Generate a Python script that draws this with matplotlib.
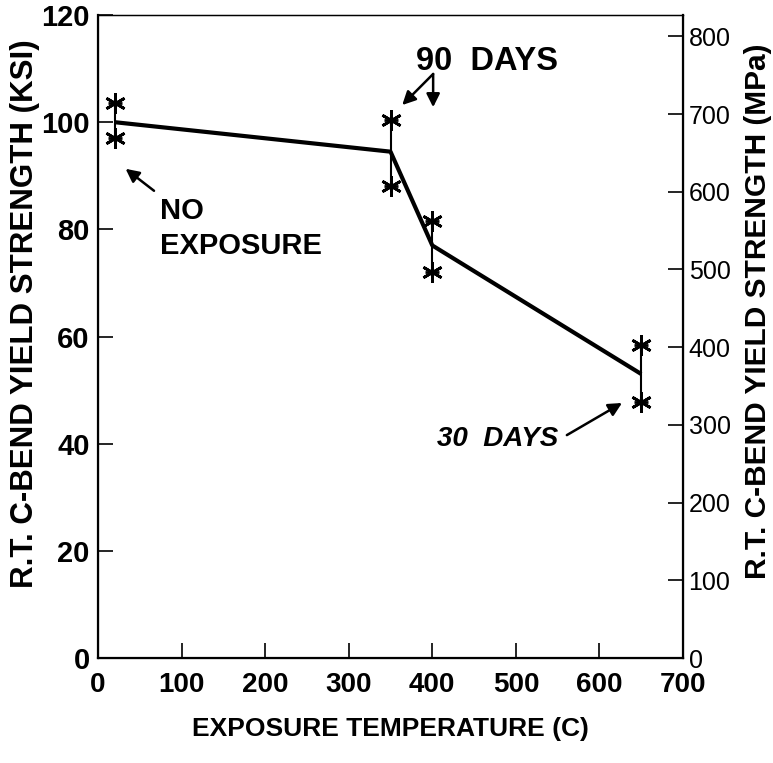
import matplotlib
matplotlib.use("Agg")
import matplotlib.pyplot as plt

# exposure temperature (C) and R.T. C-bend yield strength (ksi)
temp = [20, 350, 400, 650]
ys_mean = [100.0, 94.5, 77.0, 53.0]
ys_high = [103.5, 100.5, 81.5, 58.5]
ys_low = [97.0, 88.0, 72.0, 47.8]

x_ticks = [0, 100, 200, 300, 400, 500, 600, 700]
ksi_ticks = [0, 20, 40, 60, 80, 100, 120]
mpa_ticks = [0, 100, 200, 300, 400, 500, 600, 700, 800]
KSI_TO_MPA = 6.895

plt.rcParams['font.family'] = ['Liberation Sans', 'DejaVu Sans']

fig = plt.figure(figsize=(7.73, 7.63), dpi=100)
ax = fig.add_axes([0.1268, 0.1376, 0.7568, 0.8427])

ax.plot(temp, ys_mean, color='black', lw=3, solid_capstyle='butt', zorder=3)
for t, lo, hi in zip(temp, ys_low, ys_high):
    ax.plot([t, t], [lo, hi], color='black', lw=1.5, zorder=2)
for ys in (ys_high, ys_low):
    ax.plot(temp, ys, ls='none', marker=(6, 2, 0), ms=15, mew=2, color='black')
    ax.plot(temp, ys, ls='none', marker='_', ms=10, mew=2, color='black')

ax.set_xlim(0, 700)
ax.set_ylim(0, 120)
ax.set_xticks(x_ticks)
ax.set_yticks(ksi_ticks)
ax.set_xticklabels([str(v) for v in x_ticks], fontweight='bold', fontsize=20)
ax.set_yticklabels([str(v) for v in ksi_ticks], fontweight='bold', fontsize=21)
ax.tick_params(axis='both', direction='in', length=11, width=1.2, pad=6)
ax.tick_params(axis='x', pad=10)
for s in ax.spines.values():
    s.set_linewidth(1.6)
ax.spines['top'].set_linewidth(1.0)

ax2 = ax.twinx()
ax2.set_ylim(0, 120 * KSI_TO_MPA)
ax2.set_yticks(mpa_ticks)
ax2.set_yticklabels([str(v) for v in mpa_ticks], fontsize=18)
ax2.tick_params(axis='y', direction='in', length=11, width=1.2, pad=4)
ax2.set_ylabel('R.T. C-BEND YIELD STRENGTH (MPa)', fontweight='bold', fontsize=21.5, labelpad=6)
ax2.yaxis.set_label_coords(1.105, 0.54)

ax.set_ylabel('R.T. C-BEND YIELD STRENGTH (KSI)', fontweight='bold', fontsize=22.5)
ax.yaxis.set_label_coords(-0.1, 0.535)
ax.set_xlabel('EXPOSURE TEMPERATURE (C)', fontweight='bold', fontsize=19, labelpad=14)

arrow = dict(arrowstyle='-|>', color='black', lw=1.8, mutation_scale=20, shrinkA=0, shrinkB=0)
ax.text(74, 83.4, 'NO', fontweight='bold', fontsize=21, va='center', ha='left')
ax.text(74, 76.9, 'EXPOSURE', fontweight='bold', fontsize=21, va='center', ha='left')
ax.annotate('', xy=(33, 91.3), xytext=(67, 87.2), arrowprops=arrow)

ax.text(380, 111.4, '90  DAYS', fontweight='bold', fontsize=23.5, va='center', ha='left')
ax.annotate('', xy=(364, 103.2), xytext=(401, 109.0), arrowprops=arrow)
ax.annotate('', xy=(401, 102.8), xytext=(401, 109.0), arrowprops=arrow)

ax.text(406, 40.9, '30  DAYS', fontweight='bold', fontstyle='italic', fontsize=20, va='center', ha='left')
ax.annotate('', xy=(627, 47.6), xytext=(561, 41.6), arrowprops=arrow)

fig.savefig('out.png', dpi=100)
